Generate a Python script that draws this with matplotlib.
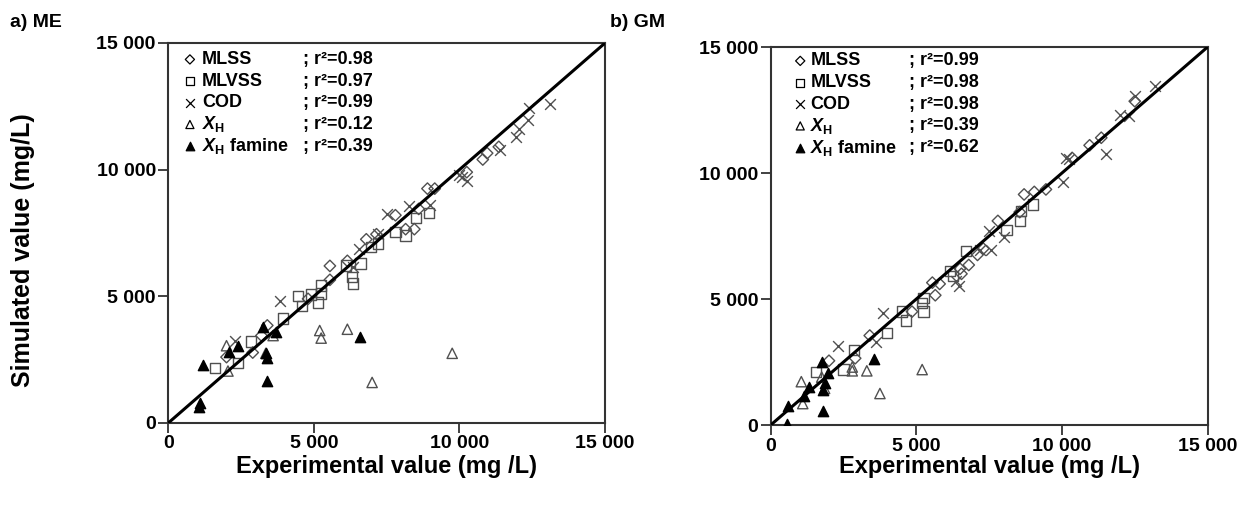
import matplotlib
matplotlib.use("Agg")
import matplotlib.pyplot as plt
from matplotlib.ticker import FuncFormatter

plt.rcParams['font.family'] = ['Liberation Sans', 'DejaVu Sans']
plt.rcParams['font.weight'] = 'bold'
plt.rcParams['mathtext.fontset'] = 'custom'
plt.rcParams['mathtext.it'] = 'Liberation Sans:italic:bold'
plt.rcParams['mathtext.rm'] = 'Liberation Sans:bold'
plt.rcParams['mathtext.bf'] = 'Liberation Sans:bold'

# ---------------- Data: panel a) ME ----------------
me_mlss_x = [2000, 2900, 3200, 3400, 4800, 5550, 5550, 6150, 6800, 7150, 7800, 8150, 8450, 8600, 8900, 9150, 10250, 10800, 10950, 11350]
me_mlss_y = [2600, 2780, 3450, 3850, 4900, 5650, 6200, 6400, 7250, 7450, 8200, 7650, 7650, 8450, 9250, 9250, 9900, 10400, 10650, 10900]
me_mlvss_x = [1600, 2400, 2850, 3950, 4450, 4600, 4900, 5150, 5250, 5250, 6100, 6300, 6350, 6600, 6950, 7200, 7800, 8150, 8500, 8950]
me_mlvss_y = [2170, 2380, 3220, 4120, 5000, 4620, 5070, 4750, 5430, 5110, 6220, 5750, 5500, 6300, 6950, 7080, 7550, 7400, 8100, 8280]
me_cod_x = [2300, 3850, 6350, 6550, 7200, 7500, 8250, 9000, 10000, 10100, 10250, 11400, 11950, 12050, 12350, 12400, 13100]
me_cod_y = [3250, 4800, 6150, 6880, 7470, 8260, 8580, 8600, 9800, 9700, 9570, 10780, 11300, 11600, 11950, 12450, 12600]
me_xh_x = [2000, 2050, 3350, 3600, 5200, 5250, 6150, 7000, 9750]
me_xh_y = [3050, 2050, 2750, 3450, 3650, 3350, 3700, 1600, 2750]
me_xhf_x = [1050, 1100, 1200, 2100, 2400, 3250, 3700, 3350, 3400, 3400, 6600]
me_xhf_y = [650, 800, 2300, 2800, 3050, 3800, 3600, 2750, 2550, 1650, 3400]
me_r2 = ["0.98", "0.97", "0.99", "0.12", "0.39"]

# ---------------- Data: panel b) GM ----------------
gm_mlss_x = [2000, 2900, 3400, 4850, 5550, 5650, 5800, 6500, 6550, 6800, 7100, 7300, 7800, 8550, 8700, 9050, 9450, 10350, 10950, 11350, 12500]
gm_mlss_y = [2550, 2650, 3550, 4500, 5650, 5150, 5600, 6200, 6000, 6350, 6750, 7000, 8100, 8450, 9150, 9250, 9350, 10600, 11100, 11400, 12850]
gm_mlvss_x = [1550, 2500, 2850, 4000, 4500, 4650, 5200, 5250, 5250, 6150, 6250, 6700, 8100, 8550, 8600, 9000]
gm_mlvss_y = [2100, 2200, 2980, 3650, 4500, 4150, 4850, 4500, 5050, 6100, 5900, 6900, 7750, 8100, 8500, 8750]
gm_cod_x = [2300, 3600, 3850, 6350, 6450, 7200, 7500, 7550, 8000, 10050, 10150, 10250, 11500, 12000, 12300, 12500, 13200]
gm_cod_y = [3150, 3300, 4450, 5700, 5500, 6950, 7700, 6950, 7450, 9650, 10600, 10550, 10750, 12300, 12250, 13050, 13450]
gm_xh_x = [1050, 1100, 1750, 1850, 2800, 2800, 3300, 3750, 5200]
gm_xh_y = [1720, 850, 1900, 1450, 2300, 2150, 2150, 1250, 2200]
gm_xhf_x = [550, 600, 1150, 1300, 1750, 1800, 1800, 1850, 1950, 3550]
gm_xhf_y = [50, 750, 1150, 1500, 2500, 1400, 550, 1650, 2050, 2600]
gm_r2 = ["0.99", "0.98", "0.98", "0.39", "0.62"]

series_names = ["MLSS", "MLVSS", "COD", "$X_{\\mathrm{H}}$", "$X_{\\mathrm{H}}$ famine"]
ticks = [0, 5000, 10000, 15000]

EDGE = '#505050'
styles = [
    dict(marker='D', s=34, facecolors='none', edgecolors=EDGE, linewidths=1.0),
    dict(marker='s', s=55, facecolors='none', edgecolors=EDGE, linewidths=1.0),
    dict(marker='x', s=60, color=EDGE, linewidths=1.0),
    dict(marker='^', s=55, facecolors='none', edgecolors=EDGE, linewidths=1.0),
    dict(marker='^', s=55, facecolors='black', edgecolors='black', linewidths=1.0),
]
leg_styles = [
    dict(marker='D', s=22, facecolors='none', edgecolors='black', linewidths=0.9),
    dict(marker='s', s=34, facecolors='none', edgecolors='black', linewidths=0.9),
    dict(marker='x', s=40, color='black', linewidths=0.9),
    dict(marker='^', s=34, facecolors='none', edgecolors='black', linewidths=0.9),
    dict(marker='^', s=38, facecolors='black', edgecolors='black', linewidths=0.9),
]

fmt = FuncFormatter(lambda v, p: f"{int(v):,}".replace(",", " "))

fig = plt.figure(figsize=(12.52, 5.09), dpi=100)
ax_a = fig.add_axes([0.1344, 0.169, 0.3489, 0.7466])
ax_b = fig.add_axes([0.6156, 0.165, 0.3489, 0.7426])

panels = [
    (ax_a, [(me_mlss_x, me_mlss_y), (me_mlvss_x, me_mlvss_y), (me_cod_x, me_cod_y), (me_xh_x, me_xh_y), (me_xhf_x, me_xhf_y)], me_r2, True,
     (743, 1154, 4610, 14350, 856), 2.0),
    (ax_b, [(gm_mlss_x, gm_mlss_y), (gm_mlvss_x, gm_mlvss_y), (gm_cod_x, gm_cod_y), (gm_xh_x, gm_xh_y), (gm_xhf_x, gm_xhf_y)], gm_r2, False,
     (1013, 1359, 4745, 14450, 860), 0.0),
]

for ax, data, r2, ylab, leg, xpad in panels:
    for (x, y), st in zip(data, styles):
        ax.scatter(x, y, zorder=3, **st)
    ax.plot([0, 15000], [0, 15000], color='black', lw=2.2, zorder=4)
    ax.set_xlim(0, 15000)
    ax.set_ylim(0, 15000)
    ax.set_xticks(ticks)
    ax.set_yticks(ticks)
    ax.xaxis.set_major_formatter(fmt)
    ax.yaxis.set_major_formatter(fmt)
    ax.tick_params(direction='out', length=7, width=1.3, labelsize=14, pad=2, color='#333333')
    for lab in ax.get_xticklabels() + ax.get_yticklabels():
        lab.set_fontweight('bold')
    for sp in ax.spines.values():
        sp.set_linewidth(1.5)
        sp.set_color('#333333')
    ax.set_xlabel("Experimental value (mg /L)", fontsize=17, fontweight='bold', labelpad=xpad)
    if ylab:
        ax.set_ylabel("Simulated value (mg/L)", fontsize=18, fontweight='bold')
        ax.yaxis.set_label_coords(-0.305, 0.455)
    mx, tx, rx, y0, dy = leg
    for i, (name, val, ls) in enumerate(zip(series_names, r2, leg_styles)):
        yy = y0 - i * dy
        ax.scatter([mx], [yy], zorder=5, clip_on=False, **ls)
        ax.text(tx, yy, name, fontsize=13, fontweight='bold', va='center', ha='left')
        ax.text(rx, yy, "; r\u00b2=" + val, fontsize=13, fontweight='bold', va='center', ha='left')

fig.text(0.008, 0.955, "a) ME", fontsize=14, fontweight='bold', va='center', ha='left')
fig.text(0.487, 0.955, "b) GM", fontsize=14, fontweight='bold', va='center', ha='left')

fig.savefig("out.png", dpi=100)
